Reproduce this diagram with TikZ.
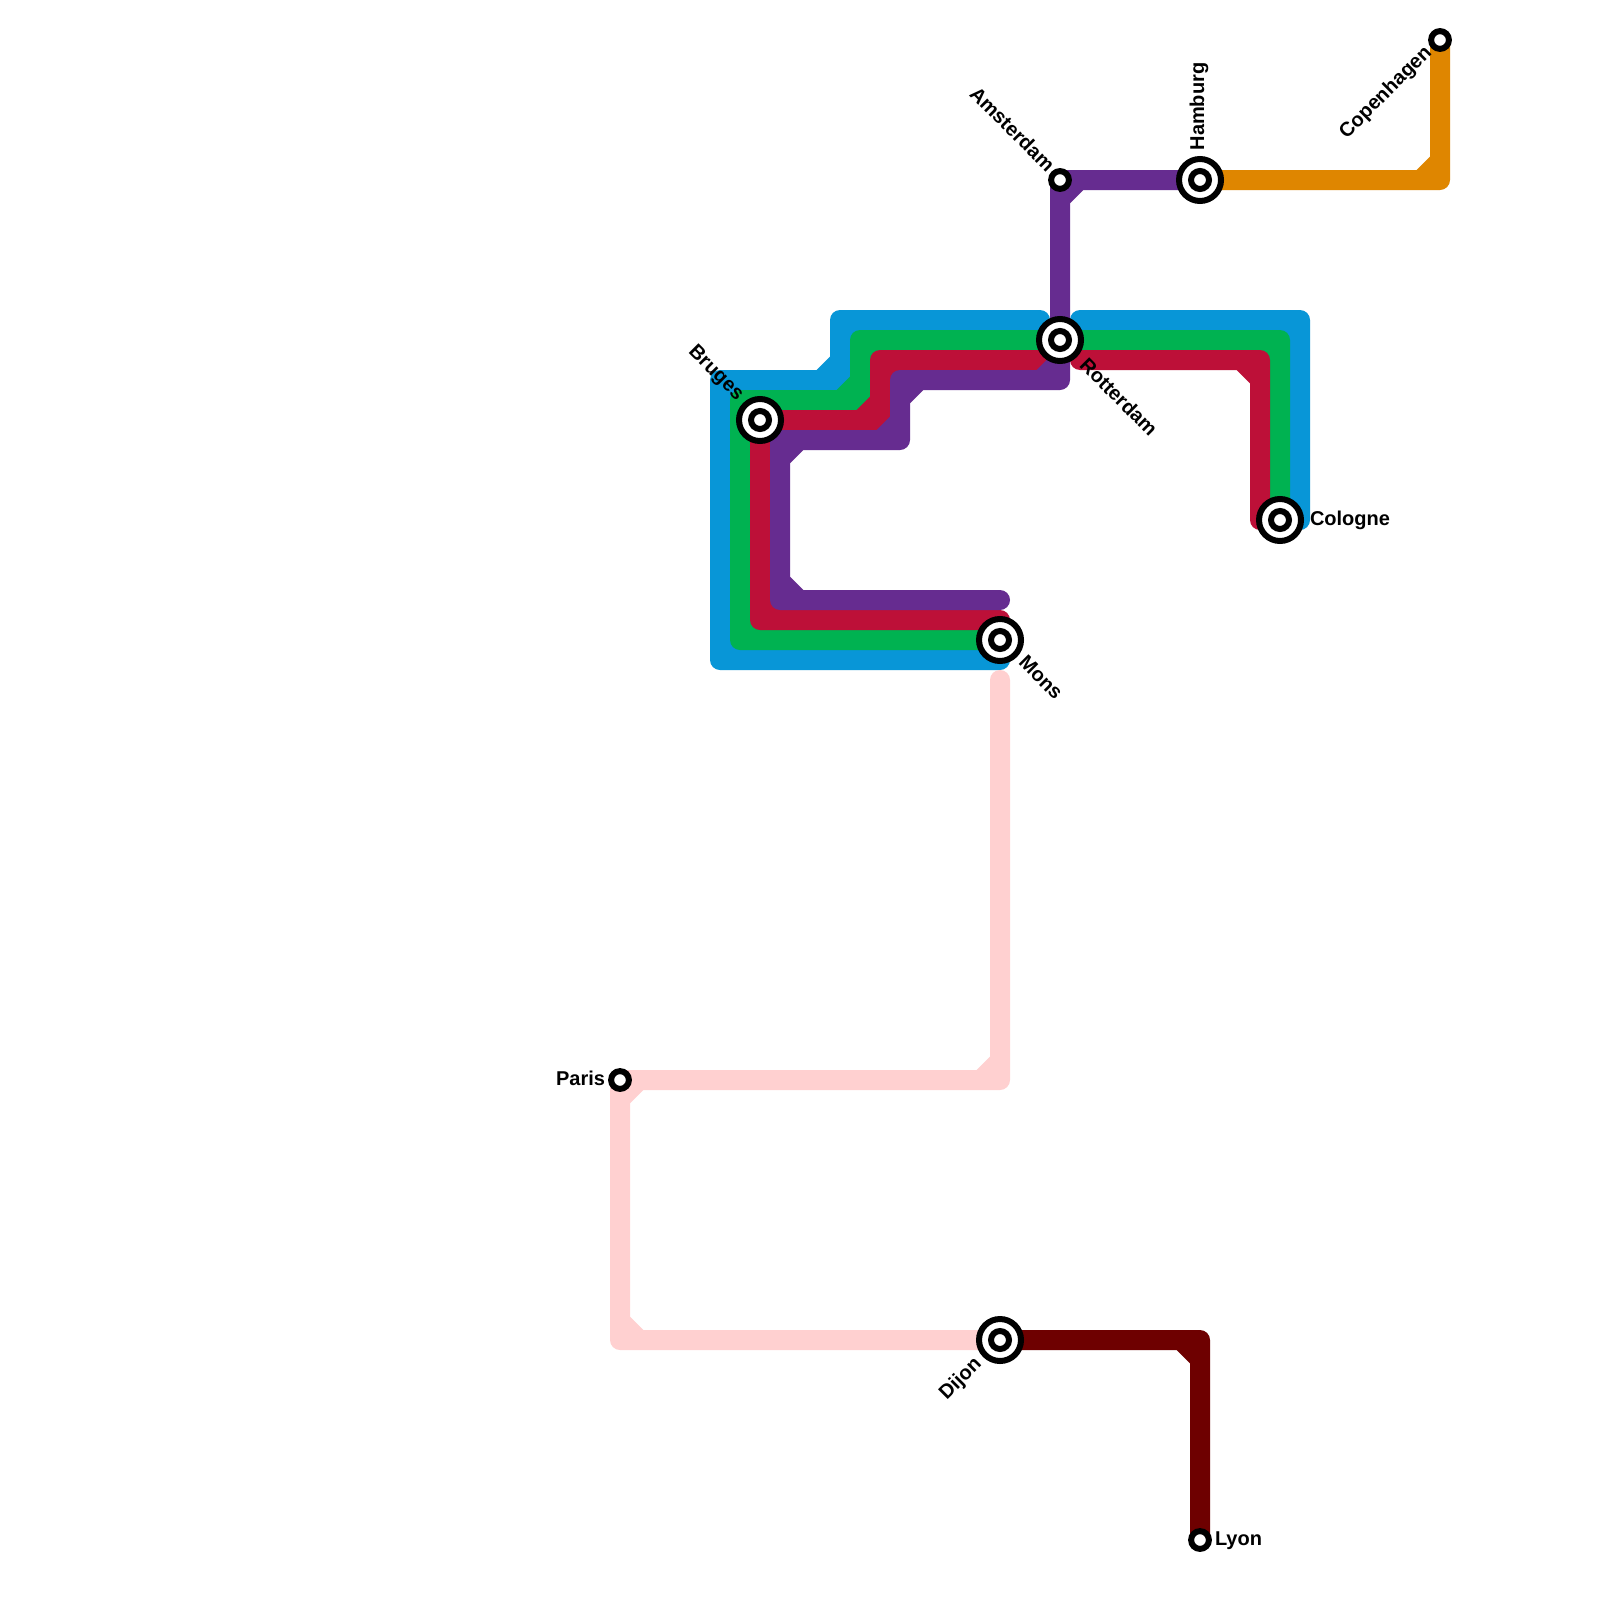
\documentclass[tikz,border=0pt]{standalone}
\usepackage{fontspec}
\setmainfont{Liberation Sans}
\usetikzlibrary{calc,backgrounds}
\definecolor{lblue}{HTML}{0896D7}
\definecolor{lgreen}{HTML}{00B251}
\definecolor{lred}{HTML}{BD1038}
\definecolor{lpurple}{HTML}{662C90}
\definecolor{lorange}{HTML}{DF8600}
\definecolor{lmaroon}{HTML}{6E0000}
\definecolor{lpink}{HTML}{FFD0D0}
% inner-corner chamfer: corner x, y, then the direction of the two arms
\newcommand{\cut}[4]{(#1,#2) ++(#3*19.2,0) -- (#1,#2) -- ++(0,#4*19.2) -- cycle}
\tikzset{
  track/.style={line width=20pt,line join=round,line cap=round},
  bluetrack/.style={track,draw=lblue},
  greentrack/.style={track,draw=lgreen},
  redtrack/.style={track,draw=lred},
  purpletrack/.style={track,draw=lpurple},
  orangetrack/.style={track,draw=lorange},
  maroontrack/.style={track,draw=lmaroon},
  pinktrack/.style={track,draw=lpink},
  minor/.style={circle,draw=black,fill=white,line width=6pt,minimum size=17.8pt,inner sep=0pt,outer sep=0pt},
  major/.style={circle,draw=black,fill=white,line width=6pt,minimum size=42pt,inner sep=0pt,outer sep=0pt,
    path picture={\draw[black,line width=6pt] (path picture bounding box.center) circle (9pt);}},
  stname/.style={font=\bfseries\fontsize{20pt}{20pt}\selectfont,inner sep=0pt,outer sep=0pt,text=black},
}
\begin{document}
\begin{tikzpicture}[x=1pt,y=-1pt]
\useasboundingbox (0,0) rectangle (1600,1600);
% stations
\node[major] (bruges) at (760,420) {};
\node[major] (rotterdam) at (1060,340) {};
\node[major] (mons) at (1000,640) {};
\node[major] (cologne) at (1280,520) {};
\node[major] (hamburg) at (1200,180) {};
\node[major] (dijon) at (1000,1340) {};
\node[minor] (amsterdam) at (1060,180) {};
\node[minor] (copenhagen) at (1440,40) {};
\node[minor] (paris) at (620,1080) {};
\node[minor] (lyon) at (1200,1540) {};
% station names
\node[stname,rotate=-45] (nbruges) at (715.5,373.5) {Bruges};
\node[stname,rotate=-45] (nrotterdam) at (1119,397) {Rotterdam};
\node[stname,rotate=-45] (nmons) at (1041,677.5) {Mons};
\node[stname,rotate=-45] (namsterdam) at (1012.5,129) {Amsterdam};
\node[stname,rotate=90] (nhamburg) at (1199,106.5) {Hamburg};
\node[stname,rotate=45] (ncopenhagen) at (1386,93) {Copenhagen};
\node[stname,rotate=45] (ndijon) at (961,1379) {Dijon};
\node[stname,anchor=base west] (ncologne) at (1310,525) {Cologne};
\node[stname,anchor=base west] (nlyon) at (1215,1545) {Lyon};
\node[stname,anchor=base east] (nparis) at (605,1085) {Paris};
% tracks
\begin{pgfonlayer}{background}
\fill[white] (0,0) rectangle (1600,1600);
\draw[bluetrack] ($(mons)+(0,20)$) -- (720,660) -- (720,380) -- (840,380) -- (840,320) -- ($(rotterdam)+(-20,-20)$)
  \cut{720}{660}{1}{-1} \cut{720}{380}{1}{1} \cut{840}{380}{-1}{-1} \cut{840}{320}{1}{1};
\draw[bluetrack] ($(rotterdam)+(20,-20)$) -- (1300,320) -- ($(cologne)+(20,0)$) \cut{1300}{320}{-1}{1};
\draw[greentrack] (mons.center) -- (740,640) -- (740,400) -- (860,400) -- (860,340) -- (rotterdam.center) -- (1280,340) -- (cologne.center)
  \cut{740}{640}{1}{-1} \cut{740}{400}{1}{1} \cut{860}{400}{-1}{-1} \cut{860}{340}{1}{1} \cut{1280}{340}{-1}{1};
\draw[redtrack] ($(mons)+(0,-20)$) -- (760,620) -- (bruges.center) -- (880,420) -- (880,360) -- ($(rotterdam)+(-20,20)$)
  \cut{760}{620}{1}{-1} \cut{880}{420}{-1}{-1} \cut{880}{360}{1}{1};
\draw[redtrack] ($(rotterdam)+(20,20)$) -- (1260,360) -- ($(cologne)+(-20,0)$) \cut{1260}{360}{-1}{1};
\draw[purpletrack] ($(mons)+(0,-40)$) -- (780,600) -- (780,440) -- (900,440) -- (900,380) -- (1060,380) -- (rotterdam.center) -- (amsterdam.center) -- (hamburg.center)
  \cut{780}{600}{1}{-1} \cut{780}{440}{1}{1} \cut{900}{440}{-1}{-1} \cut{900}{380}{1}{1} \cut{1060}{380}{-1}{-1} \cut{1060}{180}{1}{1};
\draw[orangetrack] (hamburg.center) -- (1440,180) -- (copenhagen.center) \cut{1440}{180}{-1}{-1};
\draw[pinktrack] ($(mons)+(0,40)$) -- (1000,1080) -- (paris.center) -- (620,1340) -- (dijon.center)
  \cut{1000}{1080}{-1}{-1} \cut{620}{1080}{1}{1} \cut{620}{1340}{1}{-1};
\draw[maroontrack] (dijon.center) -- (1200,1340) -- (lyon.center) \cut{1200}{1340}{-1}{1};
\end{pgfonlayer}
\end{tikzpicture}
\end{document}
